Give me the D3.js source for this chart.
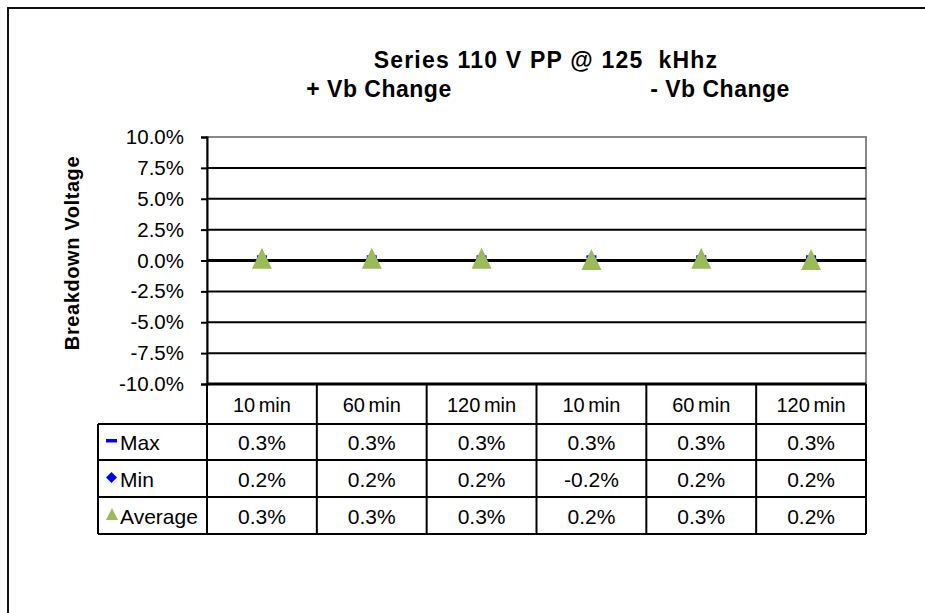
<!DOCTYPE html>
<meta charset="utf-8">
<style>
  html, body { margin: 0; background: #fff; overflow: hidden; }
  svg { display: block; }
  text { font-family: "Liberation Sans", Arial, sans-serif; fill: #000; }
</style>
<svg width="925" height="613"></svg>
<script src="https://cdn.jsdelivr.net/npm/d3@7/dist/d3.min.js"></script>
<script>

var categories = ["10 min", "60 min", "120 min", "10 min", "60 min", "120 min"];
var maxValues = [0.3, 0.3, 0.3, 0.3, 0.3, 0.3];
var minValues = [0.2, 0.2, 0.2, -0.2, 0.2, 0.2];
var avgValues = [0.3, 0.3, 0.3, 0.2, 0.3, 0.2];
var yTicks = [-10, -7.5, -5, -2.5, 0, 2.5, 5, 7.5, 10];
var seriesNames = ["Max", "Min", "Average"];

var svg = d3.select("svg");

// outer chart border, only top and left are inside the window
svg.append("path")
    .attr("d", "M8,613V8H925")
    .attr("fill", "none").attr("stroke", "#111").attr("stroke-width", 2);

var plotLeft = 207, plotRight = 866, plotTop = 137, plotBottom = 384;

var x = d3.scaleBand().domain(d3.range(categories.length)).range([plotLeft, plotRight]);
var y = d3.scaleLinear().domain([-10, 10]).range([plotBottom, plotTop]);

// title
function titleText(tx, ty, s, ls) {
  svg.append("text")
      .attr("x", tx).attr("y", ty)
      .attr("text-anchor", "middle")
      .style("font-weight", "bold").style("font-size", "23px")
      .style("letter-spacing", ls + "px")
      .style("white-space", "pre")
      .text(s);
}
titleText(546, 68, "Series 110 V PP @ 125  kHhz", 1.2);
titleText(379, 97, "+ Vb Change", 0.5);
titleText(720, 97, "- Vb Change", 0.5);

// y axis label
svg.append("text")
    .attr("transform", "translate(79,253) rotate(-90)")
    .attr("text-anchor", "middle")
    .style("font-weight", "bold").style("font-size", "20px")
    .style("letter-spacing", "0.6px")
    .text("Breakdown Voltage");

// plot frame (gray)
svg.append("rect")
    .attr("x", plotLeft).attr("y", plotTop)
    .attr("width", plotRight - plotLeft).attr("height", plotBottom - plotTop)
    .attr("fill", "none").attr("stroke", "#888").attr("stroke-width", 2);

// gridlines
svg.append("g").selectAll("line")
    .data(yTicks.filter(function(d) { return d > -10 && d < 10; }))
    .enter().append("line")
    .attr("x1", plotLeft).attr("x2", plotRight)
    .attr("y1", function(d) { return y(d); })
    .attr("y2", function(d) { return y(d); })
    .attr("stroke", "#000")
    .attr("stroke-width", function(d) { return d === 0 ? 3 : 2; });

// y axis
var yAxis = svg.append("g")
    .attr("transform", "translate(" + plotLeft + ",0)")
    .call(d3.axisLeft(y).tickValues(yTicks).tickSize(6).tickPadding(17)
      .tickFormat(function(d) { return d.toFixed(1) + "%"; }));
yAxis.select(".domain").attr("stroke", "#000").attr("stroke-width", 2);
yAxis.selectAll(".tick line").attr("stroke", "#000").attr("stroke-width", 2);
yAxis.selectAll(".tick text")
    .style("font-family", "'Liberation Sans', Arial, sans-serif")
    .style("font-size", "20.5px").attr("fill", "#000");

// marker shapes
var triShape = function(w, h) {
  return "M0," + (-h / 2) + "L" + (w / 2) + "," + (h / 2) + "L" + (-w / 2) + "," + (h / 2) + "Z";
};
var diamondShape = function(r) {
  return "M0," + (-r) + "L" + r + ",0L0," + r + "L" + (-r) + ",0Z";
};

var cx = function(i) { return x(i) + x.bandwidth() / 2; };

svg.append("g").selectAll("rect")
    .data(maxValues).enter().append("rect")
    .attr("x", function(d, i) { return cx(i) - 5; })
    .attr("y", function(d) { return y(d) - 1.5; })
    .attr("width", 10).attr("height", 3)
    .attr("fill", "#0000ff");

svg.append("g").selectAll("path")
    .data(minValues).enter().append("path")
    .attr("d", diamondShape(5.5))
    .attr("transform", function(d, i) { return "translate(" + cx(i) + "," + (y(d) + 1) + ")"; })
    .attr("fill", "#0000ff");

svg.append("g").selectAll("path")
    .data(avgValues).enter().append("path")
    .attr("d", triShape(20, 21))
    .attr("transform", function(d, i) { return "translate(" + cx(i) + "," + (y(d) + 1.5) + ")"; })
    .attr("fill", "#9bbb59");

// data table
var rowTops = [384, 424, 460, 497, 534];
var tableLeft = 98;
var series = [maxValues, minValues, avgValues];
var table = svg.append("g");

// header cells
table.selectAll(".hdr")
    .data(categories).enter().append("text")
    .attr("class", "hdr")
    .attr("x", function(d, i) { return cx(i); })
    .attr("y", (rowTops[0] + rowTops[1]) / 2 + 8)
    .attr("text-anchor", "middle")
    .style("font-size", "20px")
    .style("word-spacing", "-2px")
    .text(function(d) { return d; });

// value cells
series.forEach(function(vals, r) {
  table.append("g").selectAll("text")
    .data(vals).enter().append("text")
    .attr("x", function(d, i) { return cx(i); })
    .attr("y", (rowTops[r + 1] + rowTops[r + 2]) / 2 + 8)
    .attr("text-anchor", "middle")
    .style("font-size", "21px")
    .text(function(d) { return d.toFixed(1) + "%"; });
});

// legend keys and names
seriesNames.forEach(function(name, r) {
  var my = (rowTops[r + 1] + rowTops[r + 2]) / 2;
  if (r === 0) {
    table.append("rect").attr("x", 106).attr("y", my - 3)
      .attr("width", 11).attr("height", 3.5).attr("fill", "#0000ff");
  } else if (r === 1) {
    table.append("path").attr("d", diamondShape(5.5))
      .attr("transform", "translate(111.5," + (my - 1) + ")").attr("fill", "#0000ff");
  } else {
    table.append("path").attr("d", triShape(12, 12))
      .attr("transform", "translate(112," + (my - 1.5) + ")").attr("fill", "#9bbb59");
  }
  table.append("text")
    .attr("x", 120).attr("y", my + 8)
    .style("font-size", "21px")
    .text(name);
});

// table grid lines
var lineColor = "#000";
rowTops.forEach(function(ty, k) {
  table.append("line")
    .attr("x1", k === 0 ? plotLeft : tableLeft).attr("x2", plotRight)
    .attr("y1", ty).attr("y2", ty)
    .attr("stroke", lineColor).attr("stroke-width", k === 0 ? 3 : 2);
});
d3.range(categories.length + 1).forEach(function(i) {
  var vx = i < categories.length ? x(i) : plotRight;
  table.append("line")
    .attr("x1", vx).attr("x2", vx)
    .attr("y1", rowTops[0]).attr("y2", rowTops[4])
    .attr("stroke", lineColor).attr("stroke-width", 2);
});
table.append("line")
    .attr("x1", tableLeft).attr("x2", tableLeft)
    .attr("y1", rowTops[1]).attr("y2", rowTops[4])
    .attr("stroke", lineColor).attr("stroke-width", 2);

</script>
